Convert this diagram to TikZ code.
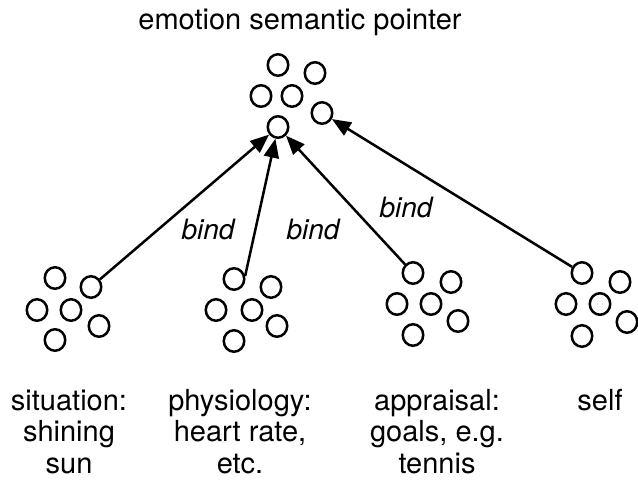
\documentclass[tikz,border=0pt]{standalone}
\usepackage{fontspec}
\setmainfont{TeX Gyre Heros}
\usetikzlibrary{shapes.geometric,arrows.meta}
\tikzset{
  unit/.style={ellipse,draw,line width=2.5pt,minimum width=20.5pt,minimum height=21.5pt,inner sep=0pt},
  bindarrow/.style={line width=2.5pt,-{Triangle[length=19pt,width=15pt]}},
  lbl/.style={anchor=base,inner sep=0pt,font=\fontsize{29}{32}\selectfont},
  bindlbl/.style={anchor=base,inner sep=0pt,font=\fontsize{28}{32}\selectfont\itshape}
}
\begin{document}
\begin{tikzpicture}[x=1pt,y=-1pt]
\useasboundingbox (0,0) rectangle (638,481);
% top cluster
\node[unit] (tA) at (278,65) {};
\node[unit] (tB) at (315,73) {};
\node[unit] (tC) at (261,96) {};
\node[unit] (tD) at (292,96) {};
\node[unit] (tE) at (322,113) {};
\node[unit] (tF) at (278,127) {};
% cluster 1
\node[unit] (c1a) at (55,278) {};
\node[unit] (c1b) at (91,287) {};
\node[unit] (c1c) at (37,310) {};
\node[unit] (c1d) at (71,310) {};
\node[unit] (c1e) at (99,326) {};
\node[unit] (c1f) at (55,340) {};
% cluster 2
\node[unit] (c2a) at (234,279) {};
\node[unit] (c2b) at (271,287) {};
\node[unit] (c2c) at (216,310) {};
\node[unit] (c2d) at (252,310) {};
\node[unit] (c2e) at (277,326) {};
\node[unit] (c2f) at (234,341) {};
% cluster 3
\node[unit] (c3a) at (413,273) {};
\node[unit] (c3b) at (451,282) {};
\node[unit] (c3c) at (397,304) {};
\node[unit] (c3d) at (431,304) {};
\node[unit] (c3e) at (458,321) {};
\node[unit] (c3f) at (413,335) {};
% cluster 4
\node[unit] (c4a) at (582,273) {};
\node[unit] (c4b) at (620,282) {};
\node[unit] (c4c) at (566,304) {};
\node[unit] (c4d) at (600,304) {};
\node[unit] (c4e) at (627,322) {};
\node[unit] (c4f) at (582,336) {};
% arrows
\draw[bindarrow] (c1b) -- (tF);
\draw[bindarrow] (c2a.15) -- (tF);
\draw[bindarrow] (c3a) -- (tF);
\draw[bindarrow] (c4a) -- (tE);
% bind labels
\node[bindlbl] (b1) at (208,240) {bind};
\node[bindlbl] (b2) at (313,240) {bind};
\node[bindlbl] (b3) at (406,218) {bind};
% title
\node[lbl] (title) at (300,30) {emotion semantic pointer};
% bottom labels
\node[lbl] (s1) at (69,410) {situation:};
\node[lbl] (s2) at (69,442) {shining};
\node[lbl] (s3) at (69,473) {sun};
\node[lbl] (p1) at (240,410) {physiology:};
\node[lbl] (p2) at (240,442) {heart rate,};
\node[lbl] (p3) at (240,473) {etc.};
\node[lbl] (a1) at (437,410) {appraisal:};
\node[lbl] (a2) at (437,442) {goals, e.g.};
\node[lbl] (a3) at (437,473) {tennis};
\node[lbl] (self) at (600,410) {self};
\end{tikzpicture}
\end{document}
